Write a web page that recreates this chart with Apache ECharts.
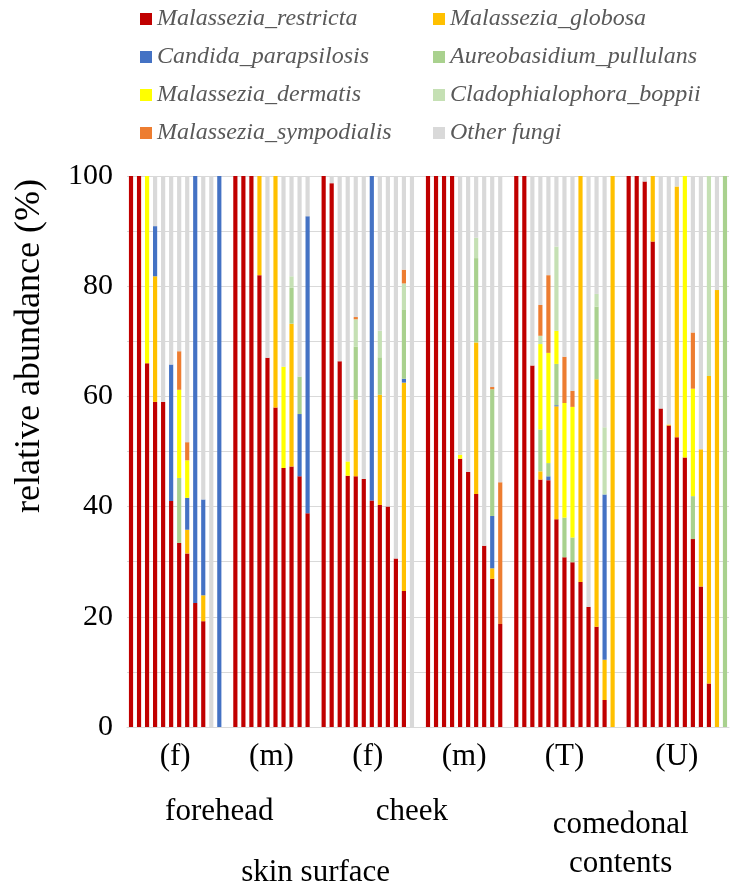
<!DOCTYPE html>
<html><head><meta charset="utf-8">
<script src="https://cdn.jsdelivr.net/npm/echarts@6/dist/echarts.min.js"></script>
<style>html,body{margin:0;padding:0;background:#fff}#c{width:735px;height:891px}</style>
</head><body><div id="c"></div>
<script>
const categories = [
 'Ff1','Ff2','Ff3','Ff4','Ff5','Ff6','Ff7','Ff8','Ff9','Ff10','Ff11','Ff12','gap1',
 'Fm1','Fm2','Fm3','Fm4','Fm5','Fm6','Fm7','Fm8','Fm9','Fm10','gap2',
 'Cf1','Cf2','Cf3','Cf4','Cf5','Cf6','Cf7','Cf8','Cf9','Cf10','Cf11','Cf12','gap3',
 'Cm1','Cm2','Cm3','Cm4','Cm5','Cm6','Cm7','Cm8','Cm9','Cm10','gap4',
 'T1','T2','T3','T4','T5','T6','T7','T8','T9','T10','T11','T12','T13','gap5',
 'U1','U2','U3','U4','U5','U6','U7','U8','U9','U10','U11','U12','U13'];

const restricta = [100,100,66,59,59,41,33.4,31.5,22.5,19.2,0,0,null,
 100,100,100,82,67,58,47,47.3,45.5,38.8,null,
 100,98.7,66.4,45.6,45.5,45,41.1,40.3,40,30.6,24.7,0,null,
 100,100,100,100,48.7,46.3,42.3,32.9,26.9,18.7,null,
 100,100,65.6,44.9,44.8,37.7,30.8,29.9,26.3,21.8,18.2,4.9,0,null,
 100,100,99,88.1,57.8,54.7,52.6,48.9,34.1,25.5,7.9,0,0];
const globosa = [0,0,0,22.8,0,0,0,4.3,0,4.7,0,0,null,
 0,0,0,18,0,42,0,25.9,0,0,null,
 0,0,0,0,13.9,0,0,20,0,0,37.8,0,null,
 0,0,0,0,0,0,27.5,0,1.9,0,null,
 0,0,0,1.5,0,20.5,0,0,73.7,0,44.9,7.3,100,null,
 0,0,0,11.9,0,0.2,45.5,0,0,24.9,55.8,79.3,0];
const parapsilosis = [0,0,0,9.1,0,24.8,0,5.8,77.5,17.4,0,100,null,
 0,0,0,0,0,0,0,0,11.3,53.9,null,
 0,0,0,0,0,0,58.9,0,0,0,0.7,0,null,
 0,0,0,0,0,0,0,0,9.5,0,null,
 0,0,0,0,0.7,0.2,0,0,0,0,0,30,0,null,
 0,0,0,0,0,0,0,0,0,0,0,0,0];
const pullulans = [0,0,0,0,0,0,11.8,0,0,0,0,0,null,
 0,0,0,0,0,0,0,6.5,6.8,0,null,
 0,0,0,0,9.6,0,0,6.8,0,0,12.6,0,null,
 0,0,0,0,0,0,15.3,0,23,0,null,
 0,0,0,7.6,2.4,7.5,7.2,4.5,0,0,13.2,0,0,null,
 0,0,0,0,0,0,0,0,7.8,0,0,0,100];
const dermatis = [0,0,34,0,0,0,16,6.8,0,0,0,0,null,
 0,0,0,0,0,0,18.4,0,0,0,null,
 0,0,0,2.6,0,0,0,0,0,0,0,0,null,
 0,0,0,0,0.7,0,0,0,0,0,null,
 0,0,0,15.5,20,6,20.8,23.7,0,0,0,0,0,null,
 0,0,0,0,0,0,0,51.1,19.5,0,0,0,0];
const boppii = [0,0,0,0,0,0,0,0,0,0,0,0,null,
 0,0,0,0,0,0,0,2.1,0,0,null,
 0,0,0,0,5,0,0,4.8,0,0,4.7,0,null,
 0,0,0,0,0,0,3.7,0,0,0,null,
 0,0,0,1.5,0,15.3,0,0,0,0,2.3,12.2,0,null,
 0,0,0,0,0,0,0,0,0,0,36.3,0,0];
const sympodialis = [0,0,0,0,0,0,7,3.3,0,0,0,0,null,
 0,0,0,0,0,0,0,0,0,0,null,
 0,0,0,0,0.4,0,0,0,0,0,2.5,0,null,
 0,0,0,0,0,0,0,0,0.4,25.7,null,
 0,0,0,5.6,14.1,0,8.4,2.9,0,0,0,0,0,null,
 0,0,0,0,0,0,0,0,10.2,0,0,0,0];
const otherFungi = [0,0,0,9.1,41,34.2,31.8,48.3,0,58.7,100,0,null,
 0,0,0,0,33,0,34.6,18.2,36.4,7.3,null,
 0,1.3,33.6,51.8,25.6,55,0,28.1,60,69.4,17,100,null,
 0,0,0,0,50.6,53.7,11.2,67.1,38.3,55.6,null,
 0,0,34.4,23.4,18,12.8,32.8,39,0,78.2,21.4,45.6,0,null,
 0,0,1,0,42.2,45.1,1.9,0,28.4,49.6,0,20.7,0];

const seriesNames = ['Malassezia_restricta','Malassezia_globosa','Candida_parapsilosis','Aureobasidium_pullulans','Malassezia_dermatis','Cladophialophora_boppii','Malassezia_sympodialis','Other fungi'];
const seriesData = [restricta, globosa, parapsilosis, pullulans, dermatis, boppii, sympodialis, otherFungi];
const seriesColors = ['#C00000','#FFC000','#4472C4','#A9D18E','#FFFF00','#C5E0B4','#ED7D31','#D9D9D9'];

const yTicks = [0,20,40,60,80,100];
const groupLabels = ['(f)','(m)','(f)','(m)','(T)','(U)'];
const groupFirst = ['Ff1','Fm1','Cf1','Cm1','T1','U1'];
const groupLast = ['Ff12','Fm10','Cf12','Cm10','T13','U13'];
const siteLabels = ['forehead','cheek','comedonal\ncontents'];
const siteFirst = ['Ff1','Cf1','T1'];
const siteLast = ['Fm10','Cm10','U13'];
const areaLabels = ['skin surface'];
const areaFirst = ['Ff1'];
const areaLast = ['Cm10'];
const yTitle = 'relative abundance (%)';

const FONT = 'Liberation Serif';
const chart = echarts.init(document.getElementById('c'), null, {renderer:'canvas'});
const legendText = {fontFamily:FONT, fontStyle:'italic', fontSize:24, color:'#595959', lineHeight:24};
chart.setOption({
  animation:false,
  backgroundColor:'#fff',
  grid:{left:127, right:6, top:176, bottom:164, containLabel:false},
  legend:[
    {data:[seriesNames[0],seriesNames[2],seriesNames[4],seriesNames[6]], orient:'vertical', left:135, top:2, itemGap:14, itemWidth:12, itemHeight:12, icon:'rect', textStyle:legendText, selectedMode:false},
    {data:[seriesNames[1],seriesNames[3],seriesNames[5],seriesNames[7]], orient:'vertical', left:428, top:2, itemGap:14, itemWidth:12, itemHeight:12, icon:'rect', textStyle:legendText, selectedMode:false}
  ],
  xAxis:{type:'category', data:categories, axisLine:{lineStyle:{color:'#D9D9D9'}}, axisTick:{show:false}, axisLabel:{show:false}},
  yAxis:{type:'value', min:0, max:100, interval:10,
    axisLine:{show:false}, axisTick:{show:false},
    splitLine:{lineStyle:{color:'#D9D9D9', width:1}},
    axisLabel:{fontFamily:FONT, fontSize:30, color:'#000', margin:14,
      formatter:v => yTicks.indexOf(v) >= 0 ? String(v) : ''}},
  series: seriesNames.map((n,i)=>({name:n, type:'bar', stack:'total', barWidth:'52%', data:seriesData[i], itemStyle:{color:seriesColors[i]}}))
});

function centerOf(a,b){
  return (chart.convertToPixel({xAxisIndex:0}, a) + chart.convertToPixel({xAxisIndex:0}, b))/2;
}
const g = [];
const txt = (x,y,s) => ({type:'text', x:x, y:y, style:{text:s, font:'31px "Liberation Serif"', fill:'#000', align:'center', verticalAlign:'middle', lineHeight:39}});
groupLabels.forEach((s,i)=> g.push(txt(centerOf(groupFirst[i],groupLast[i]), 757, s)));
g.push(txt(centerOf(siteFirst[0],siteLast[0]), 812, siteLabels[0]));
g.push(txt(centerOf(siteFirst[1],siteLast[1]), 812, siteLabels[1]));
g.push(txt(centerOf(siteFirst[2],siteLast[2]), 844, siteLabels[2]));
g.push(txt(centerOf(areaFirst[0],areaLast[0]), 873, areaLabels[0]));
g.push({type:'text', x:30, y:346, rotation:Math.PI/2, style:{text:yTitle, font:'36px "Liberation Serif"', fill:'#000', align:'center', verticalAlign:'middle'}});
chart.setOption({graphic:g});
</script></body></html>
